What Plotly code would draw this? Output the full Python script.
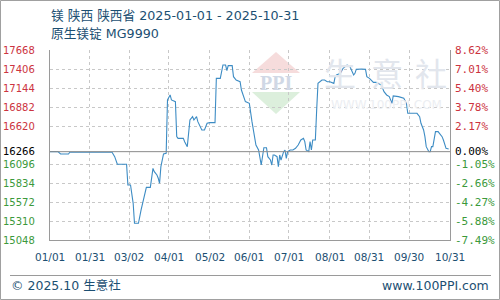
import plotly.graph_objects as go

# ---------------- data ----------------
DATES = ["2025-01-01","2025-01-07","2025-01-09","2025-01-15","2025-01-16","2025-02-17","2025-02-19","2025-02-21","2025-02-28","2025-03-01",
         "2025-03-03","2025-03-05","2025-03-06","2025-03-09","2025-03-11","2025-03-14","2025-03-15","2025-03-18","2025-03-20","2025-03-21",
         "2025-03-23","2025-03-24","2025-03-25","2025-03-26","2025-03-28","2025-03-30","2025-03-31","2025-04-02","2025-04-03","2025-04-06",
         "2025-04-07","2025-04-08","2025-04-12","2025-04-13","2025-04-15","2025-04-16","2025-04-17","2025-04-19","2025-04-20","2025-04-22",
         "2025-04-23","2025-04-26","2025-04-28","2025-04-30","2025-05-02","2025-05-06","2025-05-07","2025-05-10","2025-05-12","2025-05-14",
         "2025-05-15","2025-05-16","2025-05-19","2025-05-20","2025-05-22","2025-05-25","2025-05-26","2025-05-29","2025-06-01","2025-06-03",
         "2025-06-04","2025-06-05","2025-06-06","2025-06-08","2025-06-09","2025-06-10","2025-06-12","2025-06-14","2025-06-15","2025-06-17",
         "2025-06-18","2025-06-19","2025-06-20","2025-06-22","2025-06-23","2025-06-24","2025-06-25","2025-06-27","2025-06-28","2025-06-29",
         "2025-06-30","2025-07-02","2025-07-04","2025-07-06","2025-07-08","2025-07-10","2025-07-12","2025-07-13","2025-07-14","2025-07-16",
         "2025-07-17","2025-07-18","2025-07-19","2025-07-21","2025-07-22","2025-07-23","2025-07-26","2025-07-28","2025-07-30","2025-08-01",
         "2025-08-04","2025-08-05","2025-08-06","2025-08-09","2025-08-11","2025-08-14","2025-08-16","2025-08-19","2025-08-20","2025-08-21",
         "2025-08-25","2025-08-28","2025-08-29","2025-08-31","2025-09-03","2025-09-05","2025-09-09","2025-09-11","2025-09-13","2025-09-15",
         "2025-09-17","2025-09-18","2025-09-22","2025-09-26","2025-09-28","2025-09-29","2025-10-06","2025-10-08","2025-10-09","2025-10-11",
         "2025-10-12","2025-10-13","2025-10-15","2025-10-16","2025-10-17","2025-10-18","2025-10-20","2025-10-22","2025-10-23","2025-10-25",
         "2025-10-26","2025-10-27","2025-10-28","2025-10-30"]

VALUES = [16266,16266,16234,16234,16258,16258,16197,16092,16092,15807,
          15807,15554,15278,15278,15462,15669,15774,15774,16036,15990,
          15944,15899,15830,16059,16234,16243,16979,17048,16979,16956,
          16473,16450,16450,16404,16335,16519,16703,16749,16703,16749,
          16680,16565,16565,16657,16666,16666,17277,17277,17461,17461,
          17383,17452,17452,17300,17254,17231,17116,16956,16933,16680,
          16565,16427,16358,16289,16197,16082,16321,16321,16197,16151,
          16082,16220,16220,16197,16059,16220,16151,16266,16289,16174,
          16266,16289,16289,16312,16358,16427,16450,16404,16289,16266,
          16404,16289,16427,16427,16841,17208,17254,17254,17231,17231,
          17208,17300,17323,17346,17415,17461,17447,17323,17346,17401,
          17406,17401,17300,17277,17222,17222,17185,17093,17048,17025,
          16933,17034,17025,17002,16933,16795,16795,16749,16657,16565,
          16473,16335,16266,16266,16335,16335,16542,16542,16519,16473,
          16427,16358,16312,16303]

BASE = 16266
LEFT_TICKS = [17668, 17406, 17144, 16882, 16620, 16266, 16096, 15834, 15572, 15310, 15048]
LEFT_LABELS = ["17668", "17406", "17144", "16882", "16620", "16266", "16096", "15834", "15572", "15310", "15048"]
RIGHT_LABELS = ["8.62%", "7.01%", "5.40%", "3.78%", "2.17%", "0.00%", "-1.05%", "-2.66%", "-4.27%", "-5.88%", "-7.49%"]
GRID_VALUES = [17668, 17406, 17144, 16882, 16620, 16096, 15834, 15572, 15310, 15048]

X_TICKS = ["2025-01-01", "2025-01-31", "2025-03-02", "2025-04-01", "2025-05-02", "2025-06-01",
           "2025-07-01", "2025-08-01", "2025-08-31", "2025-09-30", "2025-10-31"]
X_LABELS = ["01/01", "01/31", "03/02", "04/01", "05/02", "06/01", "07/01", "08/01", "08/31", "09/30", "10/31"]

TITLE1 = "镁 陕西 陕西省 2025-01-01 - 2025-10-31"
TITLE2 = "原生镁锭 MG9990"
FOOT_L = "© 2025.10 生意社"
FOOT_R = "www.100PPI.com"

# ---------------- layout geometry ----------------
W, H = 500, 300
ML, MR, MT, MB = 50, 50, 50, 60
PW, PH = W - ML - MR, H - MT - MB

def px(x):
    return (x - ML) / PW

def py(y):
    return (H - MB - y) / PH

RED = "#cc3340"
GREEN = "#3b993b"
DARK = "#1c4f72"
FONT = "DejaVu Sans, Noto Sans CJK SC, sans-serif"

fig = go.Figure()
fig.add_trace(go.Scatter(x=DATES, y=VALUES, mode="lines",
                         line=dict(color="#3d8cc4", width=1.1), hoverinfo="skip"))

shapes = []
annotations = []

# watermark logo
shapes.append(dict(type="path", xref="paper", yref="paper", layer="below",
                   path=f"M {px(252)},{py(73)} L {px(276)},{py(52)} L {px(300)},{py(73)} Z",
                   fillcolor="#f6dcdc", line=dict(width=0)))
shapes.append(dict(type="path", xref="paper", yref="paper", layer="below",
                   path=f"M {px(252)},{py(92)} L {px(300)},{py(92)} L {px(276)},{py(114)} Z",
                   fillcolor="#dcefdc", line=dict(width=0)))
annotations.append(dict(xref="paper", yref="paper", x=px(276), y=py(83), text="<b>PPI</b>",
                        showarrow=False, font=dict(family="Liberation Serif", size=20, color="#d0d8e5"),
                        xanchor="center", yanchor="middle"))
for cx, ch in [(340, "生"), (387, "意"), (431, "社")]:
    annotations.append(dict(xref="paper", yref="paper", x=px(cx), y=py(72), text=ch,
                            showarrow=False, font=dict(family="Noto Sans CJK SC", size=32, color="#e2e6ed"),
                            xanchor="center", yanchor="middle"))
annotations.append(dict(xref="paper", yref="paper", x=px(386), y=py(105), text="WWW.100PPI.COM",
                        showarrow=False, font=dict(family="DejaVu Sans", size=12, color="#eceef2"),
                        xanchor="center", yanchor="middle"))

# base line
shapes.append(dict(type="line", xref="paper", yref="y", x0=0, x1=1, y0=BASE, y1=BASE,
                   line=dict(color="#8a8a8a", width=1)))

# footer line and outer border
shapes.append(dict(type="line", xref="paper", yref="paper", x0=px(10), x1=px(491), y0=py(275.5), y1=py(275.5),
                   line=dict(color="#9a9a9a", width=1)))
shapes.append(dict(type="rect", xref="paper", yref="paper", x0=px(0.5), x1=px(499.5), y0=py(0.5), y1=py(299.5),
                   line=dict(color="#a0a0a0", width=1)))

# axis labels
for v, lab, pct in zip(LEFT_TICKS, LEFT_LABELS, RIGHT_LABELS):
    col = RED if v > BASE else (GREEN if v < BASE else "#000000")
    annotations.append(dict(xref="paper", yref="y", x=0, y=v, text=lab, showarrow=False,
                            xanchor="right", yanchor="middle", xshift=-13,
                            font=dict(family="DejaVu Sans", size=10, color=col)))
    annotations.append(dict(xref="paper", yref="y", x=1, y=v, text=pct, showarrow=False,
                            xanchor="left", yanchor="middle", xshift=3,
                            font=dict(family="DejaVu Sans Mono", size=11, color=col)))

for d, lab in zip(X_TICKS, X_LABELS):
    annotations.append(dict(xref="x", yref="paper", x=d, y=py(257), text=lab, showarrow=False,
                            xanchor="center", yanchor="middle",
                            font=dict(family="DejaVu Sans", size=10.5, color=DARK)))

# titles & footer
annotations.append(dict(xref="paper", yref="paper", x=px(49), y=py(15), text=TITLE1, showarrow=False,
                        xanchor="left", yanchor="middle", font=dict(family=FONT, size=12.7, color=DARK)))
annotations.append(dict(xref="paper", yref="paper", x=px(49), y=py(34), text=TITLE2, showarrow=False,
                        xanchor="left", yanchor="middle", font=dict(family=FONT, size=12.7, color=DARK)))
annotations.append(dict(xref="paper", yref="paper", x=px(9), y=py(285), text=FOOT_L, showarrow=False,
                        xanchor="left", yanchor="middle", font=dict(family=FONT, size=12.5, color=DARK)))
annotations.append(dict(xref="paper", yref="paper", x=px(491), y=py(285), text=FOOT_R, showarrow=False,
                        xanchor="right", yanchor="middle", font=dict(family=FONT, size=12.5, color=DARK)))

fig.update_layout(
    width=W, height=H,
    margin=dict(l=ML, r=MR, t=MT, b=MB, pad=0),
    paper_bgcolor="white", plot_bgcolor="white",
    showlegend=False,
    shapes=shapes, annotations=annotations,
    xaxis=dict(type="date", range=[X_TICKS[0], X_TICKS[-1]], tickvals=X_TICKS, showticklabels=False,
               showgrid=True, gridcolor="#c8c8c8", griddash="dot", gridwidth=1,
               showline=True, linecolor="#9a9a9a", linewidth=1, mirror=False, zeroline=False, ticks=""),
    yaxis=dict(range=[LEFT_TICKS[-1], LEFT_TICKS[0]], tickvals=GRID_VALUES, showticklabels=False,
               showgrid=True, gridcolor="#c8c8c8", griddash="dot", gridwidth=1,
               showline=True, linecolor="#9a9a9a", linewidth=1, mirror=True, zeroline=False, ticks=""),
)

fig.write_html("out.html")
